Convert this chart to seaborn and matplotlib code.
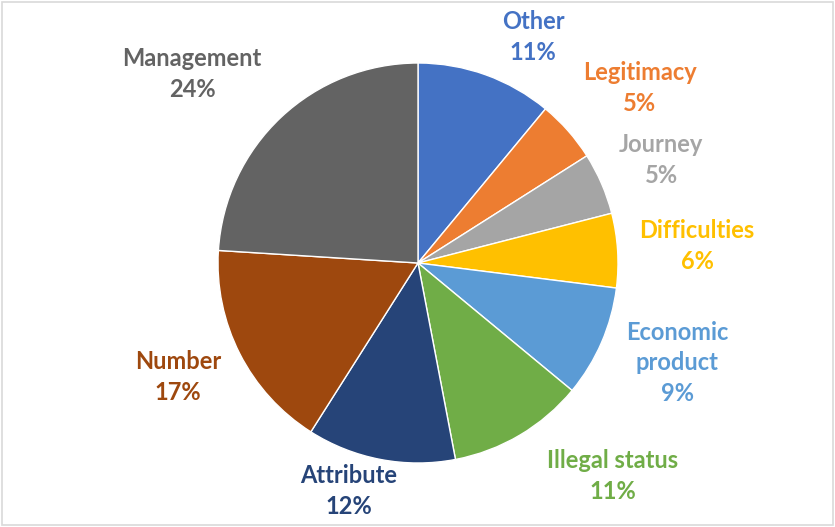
import matplotlib
matplotlib.use("Agg")
import matplotlib.pyplot as plt
import seaborn as sns
from matplotlib.patches import Rectangle

sns.set_theme(style="white")
plt.rcParams['font.family'] = ['Lato', 'DejaVu Sans']

categories = ["Other", "Legitimacy", "Journey", "Difficulties", "Economic\nproduct",
              "Illegal status", "Attribute", "Number", "Management"]
values = [11, 5, 5, 6, 9, 11, 12, 17, 24]
colors = ["#4472C4", "#ED7D31", "#A5A5A5", "#FFC000", "#5B9BD5",
          "#70AD47", "#264478", "#9E480E", "#636363"]

# label positions (pie radius units)
label_pos = [(0.575, 1.13), (1.11, 0.875), (1.215, 0.515), (1.395, 0.085),
             (1.295, -0.50), (0.975, -1.065), (-0.345, -1.14), (-1.20, -0.57),
             (-1.13, 0.945)]

fig = plt.figure(figsize=(8.35, 5.27), dpi=100)
ax = fig.add_axes([0, 0, 1, 1])
wedges, _ = ax.pie(values, colors=colors, startangle=90, counterclock=False,
                   radius=1.0, center=(0, 0),
                   wedgeprops=dict(edgecolor="white", linewidth=1))
total = sum(values)
for cat, v, c, (x, y) in zip(categories, values, colors, label_pos):
    ax.text(x, y, f"{cat}\n{round(100 * v / total)}%", color=c, fontsize=17,
            fontweight="bold", ha="center", va="center", linespacing=1.42)
ax.set_aspect("auto")
ax.set_xlim(-2.09, 2.085)
ax.set_ylim(-1.32, 1.315)
ax.axis("off")
fig.patches.append(Rectangle((0.002, 0.004), 0.996, 0.992, transform=fig.transFigure,
                             fill=False, edgecolor="#D9D9D9", linewidth=1.2))
fig.savefig("out.png", dpi=100, facecolor="white")
